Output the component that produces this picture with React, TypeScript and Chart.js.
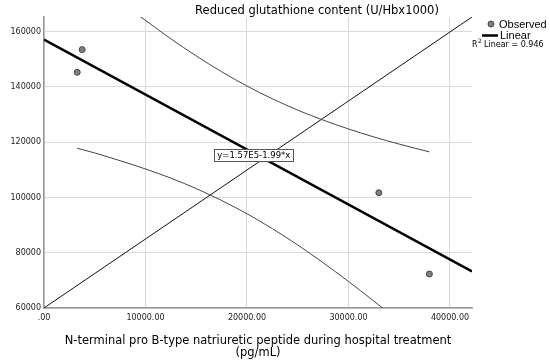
import React, { useEffect, useRef } from "react";
import { Chart, registerables } from "chart.js";

Chart.register(...registerables);

// ---- text ----
const CHART_TITLE = "Reduced glutathione content (U/Hbx1000)";
const X_TITLE_LINES = [
  "N-terminal pro B-type natriuretic peptide during hospital treatment",
  "(pg/mL)",
];
const LEGEND_OBSERVED = "Observed";
const LEGEND_LINEAR = "Linear";
const R2_TEXT = "Linear = 0.946";
const EQUATION = "y=1.57E5-1.99*x";

// ---- axes ----
const X_MIN = 0;
const X_MAX = 42170;
const Y_MIN = 60000;
const Y_MAX = 165300;
const X_TICKS = [0, 10000, 20000, 30000, 40000];
const Y_TICKS = [60000, 80000, 100000, 120000, 140000, 160000];

// ---- observed points ----
const observedX = [3270, 3760, 32990, 37970];
const observedY = [145300, 153500, 101700, 72300];

// ---- linear fit line (end points) ----
const fitX = [0, 42170];
const fitY = [157150, 73200];

// ---- upper 95% band of the mean ----
const upperX = [9000, 12500, 15000, 17500, 20000, 22500, 25000, 27500, 30000, 32500, 35000, 37970];
const upperY = [166750, 157400, 151200, 145500, 140300, 135700, 131600, 128000, 124800, 121900, 119300, 116500];

// ---- lower 95% band of the mean ----
const lowerX = [3270, 5000, 7500, 10000, 12500, 15000, 17500, 20000, 22500, 25000, 27500, 30000, 32500, 33400];
const lowerY = [117800, 116100, 113300, 110300, 107000, 103200, 98900, 94100, 88700, 82800, 76400, 69600, 62500, 59900];

// ---- diagonal reference line ----
const diagX = [X_MIN, X_MAX];
const diagY = [Y_MIN, Y_MAX];

// ---- equation label anchor (data coords) ----
const EQ_X = 20670;
const EQ_Y = 115400;

const pts = (xs: number[], ys: number[]) => xs.map((x, i) => ({ x, y: ys[i] }));

const FONT = "'DejaVu Sans', 'Liberation Sans', sans-serif";
const LEG_FONT = "'Liberation Sans', Arial, sans-serif";

const overlayPlugin = {
  id: "overlay",
  afterDraw(chart: any) {
    const ctx = chart.ctx as CanvasRenderingContext2D;
    const xs = chart.scales.x;
    const ys = chart.scales.y;
    ctx.save();
    ctx.fillStyle = "#000";
    ctx.textBaseline = "middle";

    // title
    ctx.font = `11.5px ${FONT}`;
    ctx.textAlign = "center";
    ctx.fillText(CHART_TITLE, 317, 11);

    // x-axis title
    const cx = (chart.chartArea.left + chart.chartArea.right) / 2;
    ctx.font = `11.5px ${FONT}`;
    ctx.fillText(X_TITLE_LINES[0], cx, 341);
    ctx.fillText(X_TITLE_LINES[1], cx, 353);

    // equation box
    ctx.font = `8.5px ${FONT}`;
    const ex = xs.getPixelForValue(EQ_X);
    const ey = ys.getPixelForValue(EQ_Y);
    const w = ctx.measureText(EQUATION).width + 6;
    const h = 12;
    ctx.fillStyle = "#fff";
    ctx.fillRect(Math.round(ex - w / 2) + 0.5, Math.round(ey - h / 2) + 0.5, Math.round(w), h);
    ctx.strokeStyle = "#555";
    ctx.lineWidth = 1;
    ctx.strokeRect(Math.round(ex - w / 2) + 0.5, Math.round(ey - h / 2) + 0.5, Math.round(w), h);
    ctx.fillStyle = "#000";
    ctx.textAlign = "center";
    ctx.fillText(EQUATION, ex, ey + 0.5);

    // legend
    ctx.beginPath();
    ctx.arc(491, 24, 3, 0, Math.PI * 2);
    ctx.fillStyle = "#808080";
    ctx.fill();
    ctx.strokeStyle = "#444";
    ctx.lineWidth = 1;
    ctx.stroke();
    ctx.beginPath();
    ctx.moveTo(482, 35.5);
    ctx.lineTo(498, 35.5);
    ctx.strokeStyle = "#000";
    ctx.lineWidth = 2.5;
    ctx.stroke();
    ctx.fillStyle = "#000";
    ctx.textAlign = "left";
    ctx.font = `11px ${LEG_FONT}`;
    ctx.fillText(LEGEND_OBSERVED, 499, 24.5);
    ctx.fillText(LEGEND_LINEAR, 500, 36);
    ctx.font = `8px ${FONT}`;
    ctx.fillText("R", 472, 45);
    ctx.font = `6px ${FONT}`;
    ctx.fillText("2", 478, 41);
    ctx.font = `8px ${FONT}`;
    ctx.fillText(R2_TEXT, 484, 45);
    ctx.restore();
  },
};

export default function App() {
  const ref = useRef<HTMLCanvasElement | null>(null);
  useEffect(() => {
    if (!ref.current) return;
    const chart = new Chart(ref.current, {
      type: "scatter",
      data: {
        datasets: [
          {
            label: "Observed",
            data: pts(observedX, observedY),
            backgroundColor: "#7f7f7f",
            borderColor: "#444",
            borderWidth: 1,
            pointRadius: 3,
            showLine: false,
          },
          {
            label: "Linear",
            data: pts(fitX, fitY),
            showLine: true,
            borderColor: "#000",
            borderWidth: 2.5,
            pointRadius: 0,
          },
          {
            label: "upper",
            data: pts(upperX, upperY),
            showLine: true,
            borderColor: "#444",
            borderWidth: 1,
            pointRadius: 0,
            cubicInterpolationMode: "monotone",
          },
          {
            label: "lower",
            data: pts(lowerX, lowerY),
            showLine: true,
            borderColor: "#444",
            borderWidth: 1,
            pointRadius: 0,
            cubicInterpolationMode: "monotone",
          },
          {
            label: "diag",
            data: pts(diagX, diagY),
            showLine: true,
            borderColor: "#111",
            borderWidth: 1,
            pointRadius: 0,
          },
        ],
      },
      options: {
        animation: false,
        responsive: false,
        devicePixelRatio: 1,
        layout: { padding: { top: 17, right: 78, left: 0, bottom: 0 } },
        plugins: {
          legend: { display: false },
          title: { display: false },
          tooltip: { enabled: false },
        },
        scales: {
          x: {
            type: "linear",
            min: X_MIN,
            max: X_MAX,
            afterBuildTicks: (s: any) => {
              s.ticks = X_TICKS.map((v) => ({ value: v }));
            },
            afterFit: (s: any) => {
              s.height = 56;
            },
            grid: { color: "#d9d9d9", lineWidth: 1, drawTicks: false },
            border: { display: true, color: "#999", width: 1.5 },
            ticks: {
              padding: 5,
              color: "#222",
              font: { family: FONT, size: 8 },
              maxRotation: 0,
              callback: (v: any) => (v === 0 ? ".00" : Number(v).toFixed(2)),
            },
          },
          y: {
            type: "linear",
            min: Y_MIN,
            max: Y_MAX,
            afterBuildTicks: (s: any) => {
              s.ticks = Y_TICKS.map((v) => ({ value: v }));
            },
            afterFit: (s: any) => {
              s.width = 44;
            },
            grid: { color: "#d9d9d9", lineWidth: 1, drawTicks: false },
            border: { display: true, color: "#999", width: 1.5 },
            ticks: {
              padding: 3,
              color: "#222",
              font: { family: FONT, size: 8 },
              callback: (v: any) => String(v),
            },
          },
        },
      },
      plugins: [overlayPlugin],
    } as any);
    return () => chart.destroy();
  }, []);
  return (
    <div style={{ position: "fixed", left: 0, top: 0, width: 550, height: 364, background: "#fff" }}>
      <canvas ref={ref} width={550} height={364} style={{ display: "block" }} />
    </div>
  );
}
